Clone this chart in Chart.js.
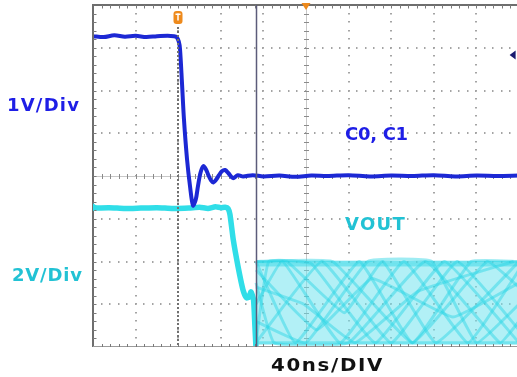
<!DOCTYPE html>
<html><head><meta charset="utf-8">
<script src="https://cdn.jsdelivr.net/npm/chart.js@4.4.1/dist/chart.umd.min.js"></script>
<style>
html,body{margin:0;padding:0;background:#fff;overflow:hidden;width:517px;height:377px;}
#wrap{position:relative;width:530px;height:377px;}
canvas{position:absolute;left:0;top:0;}
.lbl{position:absolute;font-family:"DejaVu Sans",sans-serif;font-weight:bold;font-size:18px;line-height:18px;white-space:nowrap;transform-origin:0 0;}
</style></head><body>
<div id="wrap">
<canvas id="c" width="530" height="377"></canvas>
<div class="lbl" style="left:7px;top:96px;color:#1e1ee6;letter-spacing:1.2px">1V/Div</div>
<div class="lbl" style="left:12px;top:266px;color:#22c2d4;letter-spacing:0.8px">2V/Div</div>
<div class="lbl" style="left:345px;top:125px;color:#1e1ee6;letter-spacing:-0.3px">C0, C1</div>
<div class="lbl" style="left:345px;top:215px;color:#22c2d4;letter-spacing:1.3px">VOUT</div>
<div class="lbl" style="left:271px;top:356px;color:#111;letter-spacing:1.5px;transform:scaleX(1.1)">40ns/DIV</div>
</div>
<script>
// ---- data (time in ns, amplitude in screen divisions; centre line = 0) ----
const timeRangeNs = [0, 400];          // 40 ns/div, 10 divisions
const divRange = [-4, 4];              // 8 vertical divisions
const triggerNs = 80;
const cursorNs = 153;

const c0c1Ns  = [0,10,20,30,40,50,60,70,76,78.5,80.5,81.7,83.5,85.4,88.3,91.1,93.9,96.5,98.6,101,103.6,106,108.5,111,113,115.5,118.3,121,124,127,131.5,136,141,150,160,175,190,205,220,240,260,280,300,320,340,360,380,400];
const c0c1Div = [3.27,3.25,3.29,3.26,3.28,3.25,3.27,3.28,3.27,3.25,3.15,2.97,2.2,1.33,0.39,-0.24,-0.69,-0.55,-0.23,0.08,0.23,0.16,0.01,-0.11,-0.15,-0.09,0.02,0.11,0.14,0.07,-0.05,0.02,-0.01,0.02,-0.01,0.01,-0.02,0.01,0.0,0.02,-0.01,0.01,0.0,0.02,-0.01,0.01,0.0,0.01];

const voutNs  = [0,15,30,45,60,75,90,100,108,115,120,124,126.8,128.6,131.7,136.2,140.8,144.1,146.5,148.4,150.7,152,153];
const voutDiv = [-0.75,-0.74,-0.76,-0.75,-0.74,-0.76,-0.75,-0.73,-0.76,-0.72,-0.74,-0.73,-0.76,-0.9,-1.49,-2.12,-2.66,-2.85,-2.83,-2.71,-2.89,-3.5,-4.0];

// eye-diagram (persistence) region after the cursor
const eyeEdgeNs = [153, 400];
const eyeTopDiv = [-1.98, -1.98];
const eyeBottomDiv = [-3.95, -3.95];
const eyeTraces = [
  {ns:[153,165,205,265,330,400], div:[-3.9,-2.0,-2.05,-3.9,-2.0,-3.9]},
  {ns:[153,190,250,300,370,400], div:[-2.0,-3.9,-2.0,-3.9,-2.0,-2.6]},
  {ns:[153,178,232,292,352,400], div:[-3.0,-2.0,-3.9,-2.0,-3.9,-2.2]},
  {ns:[153,215,280,342,400], div:[-3.9,-2.0,-3.9,-2.0,-3.6]},
  {ns:[153,170,240,312,382,400], div:[-2.5,-3.9,-3.9,-2.0,-3.9,-3.4]},
  {ns:[153,182,236,272,322,400], div:[-2.0,-2.0,-3.2,-2.0,-3.9,-2.0]},
  {ns:[153,200,258,318,360,400], div:[-3.4,-3.9,-2.0,-2.0,-3.9,-3.0]},
  {ns:[153,225,300,355,400], div:[-2.0,-2.0,-3.9,-2.0,-2.0]},
  {ns:[153,198,246,305,395], div:[-2.6,-3.0,-3.9,-2.7,-2.0]},
  {ns:[153,210,262,338,400], div:[-2.2,-3.6,-2.4,-3.3,-2.5]},
  {ns:[153,400], div:[-2.02,-2.02]},
  {ns:[153,400], div:[-3.9,-3.9]},
  {ns:[153,400], div:[-2.08,-2.08]}
];

const markerRefDiv = 2.83;   // C0/C1 reference marker on right edge
const voutRefDiv = -0.73;    // VOUT marker on left edge

const BLUE = 'rgb(28,40,212)';
const CYAN = 'rgb(48,222,232)';

function pts(xs, ys){ return xs.map((v,i)=>({x:v, y:ys[i]})); }

const datasets = [
  {data: pts(c0c1Ns, c0c1Div), borderColor: BLUE, borderWidth: 4, tension: 0.3},
  {data: pts(voutNs, voutDiv), borderColor: CYAN, borderWidth: 5.5, tension: 0.2}
];
eyeTraces.forEach(t => datasets.push({data: pts(t.ns, t.div), borderColor:'rgba(40,212,228,0.45)', borderWidth:3, tension:0.1, borderJoinStyle:'round'}));
datasets.push({data: pts(eyeEdgeNs, eyeTopDiv), borderColor:'rgba(0,0,0,0)', borderWidth:0, fill:'+1', backgroundColor:'rgba(115,228,238,0.55)'});
datasets.push({data: pts(eyeEdgeNs, eyeBottomDiv), borderColor:'rgba(0,0,0,0)', borderWidth:0, fill:false});

const scopePlugin = {
  id: 'scope',
  beforeDatasetsDraw(chart){
    const {ctx, chartArea:a, scales:{x, y}} = chart;
    ctx.save();
    ctx.fillStyle = '#a4a4a4';
    for (let i = 1; i < 10; i++) {
      if (i === 5) continue;
      const px = Math.round(x.getPixelForValue(i*40));
      for (let k = 1; k < 40; k++) {
        const py = Math.round(y.getPixelForValue(-4 + k*0.2));
        ctx.fillRect(px-1, py-1, 2, 1.5);
      }
    }
    for (let j = -3; j <= 3; j++) {
      if (j === 0) continue;
      const py = Math.round(y.getPixelForValue(j));
      for (let k = 1; k < 50; k++) {
        const px = Math.round(x.getPixelForValue(k*8));
        ctx.fillRect(px-1, py-1, 1.5, 2);
      }
    }
    const cx = Math.round(x.getPixelForValue(200)) + 0.5;
    const cy = Math.round(y.getPixelForValue(0)) + 0.5;
    ctx.strokeStyle = '#c8c8c8'; ctx.lineWidth = 1;
    ctx.beginPath(); ctx.moveTo(cx, a.top); ctx.lineTo(cx, a.bottom);
    ctx.moveTo(a.left, cy); ctx.lineTo(a.right, cy); ctx.stroke();
    ctx.strokeStyle = '#8a8a8a';
    ctx.beginPath();
    for (let k = 1; k < 40; k++) { const py = Math.round(y.getPixelForValue(-4 + k*0.2))+0.5; ctx.moveTo(cx-2.5, py); ctx.lineTo(cx+2.5, py); }
    for (let k = 1; k < 50; k++) { const px = Math.round(x.getPixelForValue(k*8))+0.5; ctx.moveTo(px, cy-2.5); ctx.lineTo(px, cy+2.5); }
    ctx.stroke();
    ctx.restore();
  },
  afterDatasetsDraw(chart){
    const {ctx, chartArea:a, scales:{x, y}} = chart;
    ctx.save();
    ctx.strokeStyle = '#6e6e6e'; ctx.lineWidth = 2;
    ctx.beginPath(); ctx.moveTo(a.left, a.bottom); ctx.lineTo(a.left, a.top); ctx.lineTo(a.right, a.top); ctx.stroke();
    ctx.strokeStyle = '#9a9a9a'; ctx.lineWidth = 1;
    ctx.beginPath(); ctx.moveTo(a.left, Math.round(a.bottom)-0.5); ctx.lineTo(a.right, Math.round(a.bottom)-0.5); ctx.stroke();
    ctx.strokeStyle = '#7a7a7a'; ctx.lineWidth = 1;
    ctx.beginPath();
    for (let k = 1; k < 50; k++) {
      const px = Math.round(x.getPixelForValue(k*8))+0.5;
      ctx.moveTo(px, a.top); ctx.lineTo(px, a.top+3.5);
      ctx.moveTo(px, a.bottom); ctx.lineTo(px, a.bottom-3);
    }
    for (let k = 1; k < 40; k++) {
      const py = Math.round(y.getPixelForValue(-4 + k*0.2))+0.5;
      ctx.moveTo(a.left, py); ctx.lineTo(a.left+3.5, py);
    }
    ctx.stroke();
    const tx = Math.round(x.getPixelForValue(triggerNs));
    ctx.fillStyle = '#707070';
    for (let py = a.top + 22; py < a.bottom; py += 4) ctx.fillRect(tx-1, py, 2, 2);
    ctx.fillStyle = '#ee8a1c';
    ctx.beginPath(); ctx.roundRect(tx-4.5, a.top+6, 9, 13, 3); ctx.fill();
    ctx.fillStyle = '#ffffff';
    ctx.fillRect(tx-2.5, a.top+8.5, 5, 1.5); ctx.fillRect(tx-0.75, a.top+8.5, 1.5, 7);
    const hx = x.getPixelForValue(200);
    ctx.fillStyle = '#ee8a1c';
    ctx.beginPath(); ctx.moveTo(hx-4.5, a.top-2); ctx.lineTo(hx+4.5, a.top-2); ctx.lineTo(hx, a.top+5); ctx.closePath(); ctx.fill();
    const cxp = Math.round(x.getPixelForValue(cursorNs)) + 0.5;
    ctx.strokeStyle = '#5c5c7a'; ctx.lineWidth = 1.5;
    ctx.beginPath(); ctx.moveTo(cxp, a.top); ctx.lineTo(cxp, a.bottom); ctx.stroke();
    const my = y.getPixelForValue(markerRefDiv);
    const mx = x.getPixelForValue(394);
    ctx.fillStyle = '#1a1a70';
    ctx.beginPath(); ctx.moveTo(mx-3, my); ctx.lineTo(mx+3, my-4.5); ctx.lineTo(mx+3, my+4.5); ctx.closePath(); ctx.fill();
    const vy = y.getPixelForValue(voutRefDiv);
    ctx.fillStyle = CYAN;
    ctx.beginPath(); ctx.moveTo(a.left, vy-4); ctx.lineTo(a.left+6, vy); ctx.lineTo(a.left, vy+4); ctx.closePath(); ctx.fill();
    ctx.restore();
  }
};

new Chart(document.getElementById('c'), {
  type: 'line',
  data: {datasets},
  options: {
    responsive: false, animation: false, devicePixelRatio: 1,
    layout: {padding: {left: 93, top: 5, right: 11, bottom: 30}},
    plugins: {legend: {display: false}, tooltip: {enabled: false}},
    elements: {point: {radius: 0}},
    scales: {
      x: {type: 'linear', min: timeRangeNs[0], max: timeRangeNs[1], display: false},
      y: {type: 'linear', min: divRange[0], max: divRange[1], display: false}
    }
  },
  plugins: [scopePlugin]
});
</script>
</body></html>
